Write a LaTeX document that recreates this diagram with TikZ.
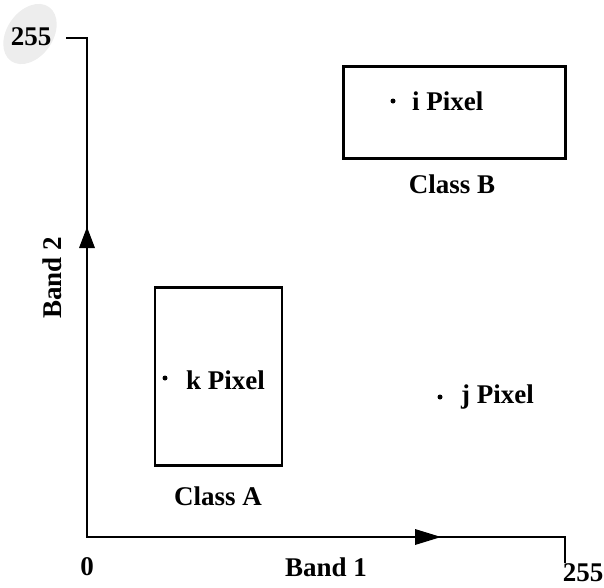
\documentclass[tikz,border=0pt]{standalone}
\usepackage{fontspec}
\setmainfont{Liberation Serif}
\begin{document}
\begin{tikzpicture}[x=1pt,y=-1pt,
  lbl/.style={font=\fontsize{27}{30}\selectfont\bfseries, inner sep=0pt},
  axis/.style={line width=2.3pt, line join=miter},
  cls/.style={draw, line width=2.3pt},
  pdot/.style={circle, fill=black, inner sep=0pt, minimum size=5pt},
  tri/.style={fill=black}]
\useasboundingbox (0,0) rectangle (604,587);
% faint smudge behind top label
\fill[gray!14, rotate around={-35:(30,34)}] (30,34) ellipse (23 and 33);
% axes
\coordinate (ytop) at (66,38);
\coordinate (ycorner) at (87,38);
\coordinate (origin) at (87,537);
\coordinate (xend) at (565,537);
\coordinate (xtick) at (565,563);
\draw[axis] (ytop) -- (ycorner) -- (origin) -- (xend) -- (xtick);
% arrowheads
\fill[tri] (87,227) -- (79,248) -- (95,248) -- cycle;
\fill[tri] (441,537) -- (415,529) -- (415,545) -- cycle;
% boxes
\node[cls, minimum width=222pt, minimum height=92pt, inner sep=0pt] (boxB) at (454.5,112.5) {};
\node[cls, minimum width=127pt, minimum height=178pt, inner sep=0pt] (boxA) at (218.5,376.5) {};
% pixels
\node[pdot] (pi) at (393,101) {};
\node[lbl, anchor=west] (ti) at (412,101) {i Pixel};
\node[pdot] (pk) at (165,378) {};
\node[lbl, anchor=west] (tk) at (186,380) {k Pixel};
\node[pdot] (pj) at (440,397) {};
\node[lbl, anchor=west] (tj) at (461,397) {j Pixel};
% class labels
\node[lbl] (cB) at (452,184) {Class B};
\node[lbl] (cA) at (218,496) {Class A};
% axis labels
\node[lbl] (t255a) at (31,37) {255};
\node[lbl] (t0) at (87,567) {0};
\node[lbl] (band1) at (326,567) {Band 1};
\node[lbl] (t255b) at (583,573) {255};
\node[lbl, rotate=90] (band2) at (52,278) {Band 2};
\end{tikzpicture}
\end{document}
